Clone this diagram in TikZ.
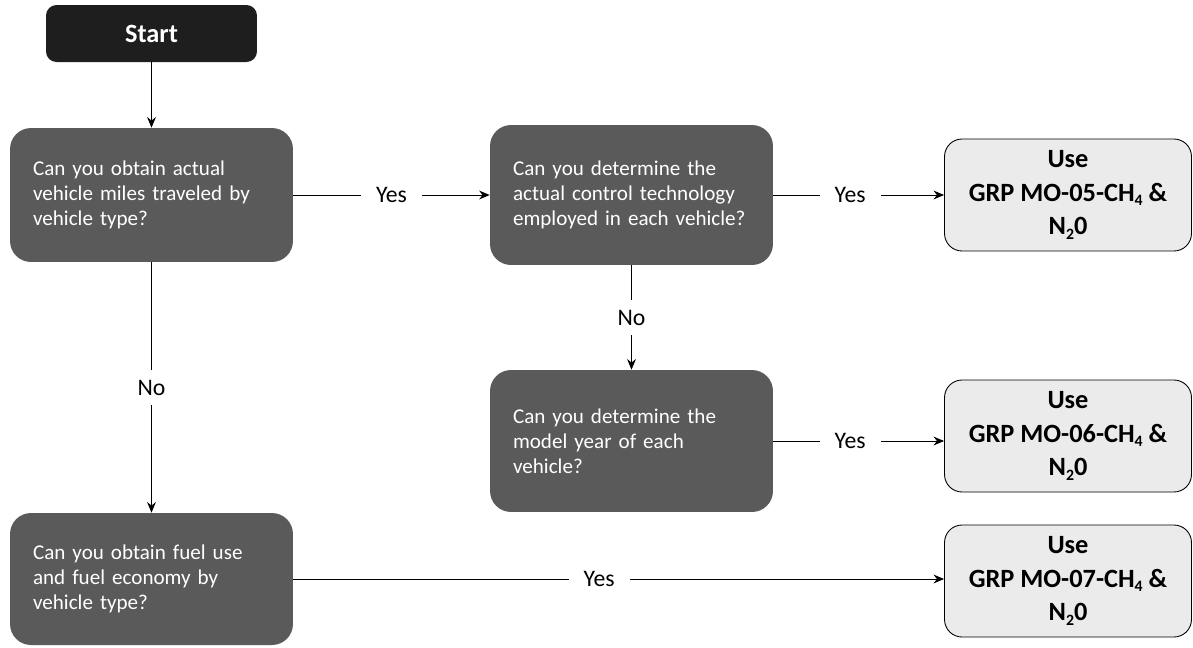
\documentclass[tikz,border=0pt]{standalone}
\usepackage{fontspec}
\setmainfont{Carlito}
\usetikzlibrary{arrows.meta}

\definecolor{startgray}{HTML}{1E1E1E}
\definecolor{askgray}{HTML}{5A5A5A}
\definecolor{usegray}{HTML}{EBEBEB}

\newcommand{\lowsub}[1]{\raisebox{-0.35ex}{\fontsize{9}{9}\selectfont #1}}

\tikzset{
    startbox/.style={rectangle, rounded corners=6pt, fill=startgray, text=white,
        font=\fontsize{15}{18}\selectfont\bfseries,
        minimum width=4.22cm, minimum height=1.14cm},
    askbox/.style={rectangle, rounded corners=0.42cm, fill=askgray, text=white,
        font=\fontsize{12}{14.2}\selectfont, align=left,
        text width=4.74cm, inner xsep=0.46cm, inner ysep=0pt},
    usebox/.style={rectangle, rounded corners=0.35cm, fill=usegray, draw=black,
        line width=0.5pt, font=\fontsize{15}{19}\selectfont\bfseries, align=center,
        minimum width=4.94cm, minimum height=2.24cm},
    flowline/.style={draw=black, line width=0.5pt, -{Stealth[length=6pt,width=5pt]}},
    answer/.style={fill=white, font=\fontsize{13.5}{16}\selectfont,
        inner xsep=0.3cm, inner ysep=0.2cm}
}

\begin{document}
\begin{tikzpicture}[x=0.02cm, y=-0.02cm]
    \useasboundingbox (0,0) rectangle (1193,647);

    \node[startbox] (start) at (151.5,33.5) {Start};

    % questions
    \node[askbox, minimum height=2.68cm] (vmt) at (151.5,195)
        {Can you obtain actual\\vehicle miles traveled by\\vehicle type?};
    \node[askbox, minimum height=2.8cm] (ctrl) at (631.5,195)
        {Can you determine the\\actual control technology\\employed in each vehicle?};
    \node[askbox, minimum height=2.84cm] (year) at (631.5,441)
        {Can you determine the\\model year of each\\vehicle?};
    \node[askbox, minimum height=2.64cm] (fuel) at (151.5,579)
        {Can you obtain fuel use\\and fuel economy by\\vehicle type?};

    % methods
    \node[usebox] (mo5) at (1068,195) {Use\\GRP MO-05-CH\lowsub{4} \&\\N\lowsub{2}0};
    \node[usebox] (mo6) at (1068,436) {Use\\GRP MO-06-CH\lowsub{4} \&\\N\lowsub{2}0};
    \node[usebox] (mo7) at (1068,581) {Use\\GRP MO-07-CH\lowsub{4} \&\\N\lowsub{2}0};

    % connectors
    \draw[flowline] (start) -- (vmt);
    \draw[flowline] (vmt) -- node[answer] {Yes} (ctrl);
    \draw[flowline] (ctrl.east) -- node[answer, pos=0.45] {Yes} (ctrl.east -| mo5.west);
    \draw[flowline] (ctrl) -- node[answer] {No} (year);
    \draw[flowline] (year.east) -- node[answer, pos=0.45] {Yes} (year.east -| mo6.west);
    \draw[flowline] (vmt) -- node[answer] {No} (fuel);
    \draw[flowline] (fuel.east) -- node[answer, pos=0.47] {Yes} (fuel.east -| mo7.west);

\end{tikzpicture}
\end{document}
